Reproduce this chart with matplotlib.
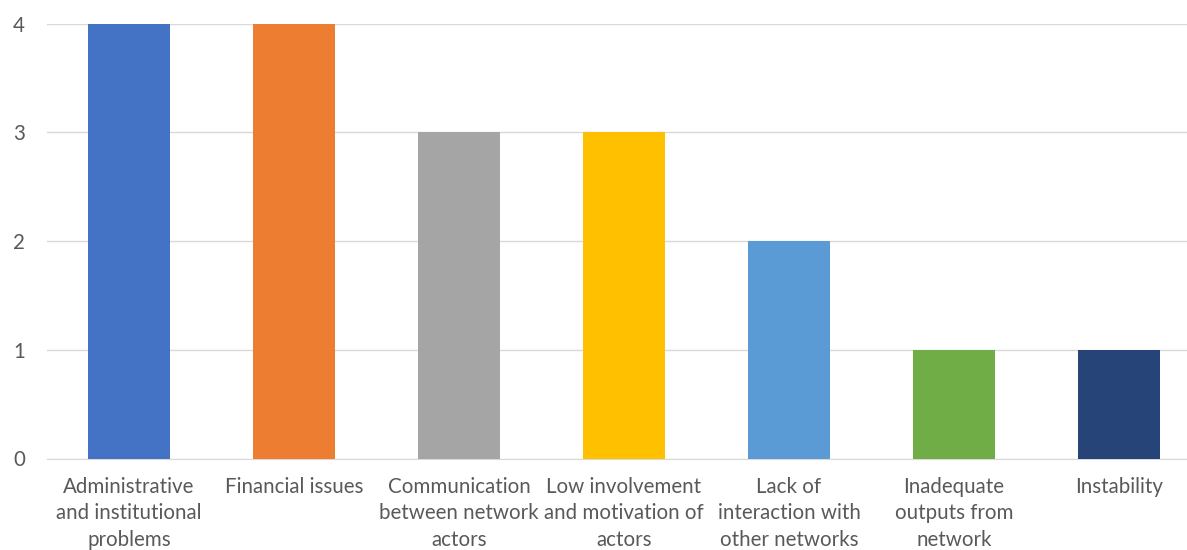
import numpy as np
import matplotlib.pyplot as plt

categories = ['Administrative\nand institutional\nproblems', 'Financial issues',
              'Communication\nbetween network\nactors', 'Low involvement\nand motivation of\nactors',
              'Lack of\ninteraction with\nother networks', 'Inadequate\noutputs from\nnetwork',
              'Instability']
counts = [4, 4, 3, 3, 2, 1, 1]
colors = ['#4472C4', '#ED7D31', '#A5A5A5', '#FFC000', '#5B9BD5', '#70AD47', '#264478']

plt.rcParams['font.family'] = ['Lato', 'DejaVu Sans']

fig = plt.figure(figsize=(11.87, 5.5), dpi=100)
ax = fig.add_axes([46.5/1187, 91.5/550, 1155/1187, 435/550])

x = np.arange(len(categories))
ax.bar(x, counts, width=0.5, color=colors, zorder=3)

ax.set_xlim(-0.5, len(categories) - 0.5)
ax.set_ylim(0, 4)
ax.set_yticks([0, 1, 2, 3, 4])
ax.set_xticks(x)
ax.set_xticklabels(categories, linespacing=1.42)
ax.yaxis.grid(True, color='#D9D9D9', linewidth=1, zorder=0)
for s in ['top', 'right', 'left']:
    ax.spines[s].set_visible(False)
ax.spines['bottom'].set_color('#D9D9D9')
ax.tick_params(axis='x', length=0, pad=13, labelsize=14.8, labelcolor='#595959')
ax.tick_params(axis='y', length=0, pad=24, labelsize=14.8, labelcolor='#595959')
for lab in ax.get_yticklabels():
    lab.set_horizontalalignment('left')

fig.savefig('out.png', dpi=100)
